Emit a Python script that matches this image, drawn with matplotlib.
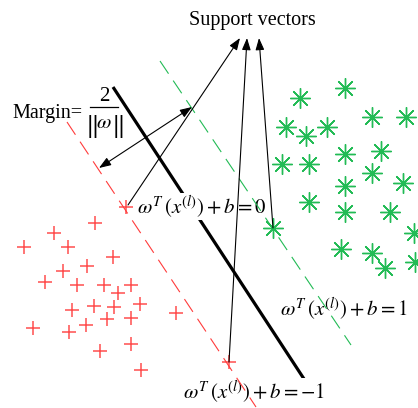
import matplotlib
matplotlib.use('Agg')
import matplotlib.pyplot as plt
from matplotlib.patches import FancyArrowPatch

plt.rcParams['mathtext.fontset'] = 'stix'
plt.rcParams['font.family'] = ['Liberation Serif', 'DejaVu Serif']
plt.rcParams['lines.scale_dashes'] = False

# class -1 samples (red crosses), pixel-style coordinates, y grows downward
neg_x = [95, 54, 24, 68, 113, 87, 63, 45, 77, 104, 131, 118, 94, 114, 140,
         72, 176, 107, 131, 86, 33, 69, 131, 100, 141]
neg_y = [223, 233, 247, 247, 257, 266, 271, 282, 285, 285, 285, 293, 306, 307, 304,
         310, 313, 319, 318, 325, 328, 332, 344, 351, 370]
# class +1 samples (green asterisks)
pos_x = [345, 300, 372, 406, 286, 327, 306, 345, 381, 282, 309, 372, 345, 403,
         309, 345, 390, 414, 341, 372, 385, 415]
pos_y = [88, 98, 117, 117, 127, 127, 136, 154, 151, 164, 164, 173, 186, 183,
         202, 212, 212, 233, 249, 253, 268, 262]
# support vectors
sv_neg_x = [126, 229]
sv_neg_y = [207, 362]
sv_pos_x = [273]
sv_pos_y = [228]

# decision boundary and the two margin lines (end points)
boundary_x, boundary_y = [113, 306], [87, 382]
lower_x, lower_y = [67, 256], [122, 407]
upper_x, upper_y = [160, 351], [61, 345]

# arrows from the support vectors to the label
sv_tips_x = [240, 247, 259]
sv_tips_y = [38, 38, 38]
sv_from_x = [128, 229, 273]
sv_from_y = [205, 362, 228]
# margin width arrow
margin_a = (99, 168)
margin_b = (192, 107)

red = '#ff3b3b'
green = '#22bb55'

fig = plt.figure(figsize=(4.18, 4.08), dpi=100)
ax = fig.add_axes([0, 0, 1, 1])
ax.set_xlim(0, 418)
ax.set_ylim(408, 0)
ax.axis('off')

ax.plot(boundary_x, boundary_y, color='black', lw=2.3, solid_capstyle='butt', zorder=1)
ax.plot(lower_x, lower_y, color=red, lw=0.8, dashes=[11, 6], zorder=3)
ax.plot(upper_x, upper_y, color=green, lw=0.8, dashes=[11, 6], zorder=3)

ax.plot(neg_x, neg_y, ls='none', marker='+', ms=10, mew=1.1, color=red, alpha=0.9, zorder=4)
ax.plot(sv_neg_x, sv_neg_y, ls='none', marker='+', ms=10, mew=1.1, color=red, alpha=0.9, zorder=4)
ax.plot(pos_x, pos_y, ls='none', marker=(8, 2, 0), ms=14.5, mew=1.0, color=green, zorder=4)
ax.plot(sv_pos_x, sv_pos_y, ls='none', marker=(8, 2, 0), ms=14.5, mew=1.0, color=green, zorder=4)

head = '-|>,head_length=0.6,head_width=0.22'
for x0, y0, x1, y1 in zip(sv_from_x, sv_from_y, sv_tips_x, sv_tips_y):
    ax.add_patch(FancyArrowPatch((x0, y0), (x1, y1), arrowstyle=head, mutation_scale=12,
                                 color='black', lw=0.8, shrinkA=0, shrinkB=0, zorder=5))
ax.add_patch(FancyArrowPatch(margin_a, margin_b, arrowstyle='<|-|>,head_length=0.6,head_width=0.22',
                             mutation_scale=12, color='black', lw=0.8, shrinkA=0, shrinkB=0, zorder=5))

ax.text(252, 25, 'Support vectors', fontsize=14.5, ha='center', va='baseline')
ax.text(12, 118, 'Margin=', fontsize=14.5, ha='left', va='baseline')

# margin formula 2 / ||w||, built from pieces so the norm bars can be tall
ax.text(104, 101, '2', fontsize=15, ha='center', va='baseline')
ax.plot([90, 118], [107, 107], color='black', lw=0.9)
ax.text(91, 126, r'$\Vert$', fontsize=19, ha='center', va='center')
ax.text(104, 124, r'$\omega$', fontsize=15, ha='center', va='center')
ax.text(117, 126, r'$\Vert$', fontsize=19, ha='center', va='center')

white = dict(fc='white', ec='none', pad=0)
ax.text(137, 213, r'$\omega^T\,\left(x^{(l)}\right)+b=0$', fontsize=15,
        ha='left', va='baseline', bbox=white, zorder=2)
ax.text(280, 315, r'$\omega^T\,\left(x^{(l)}\right)+b=1$', fontsize=15,
        ha='left', va='baseline', bbox=white, zorder=2)
ax.text(183, 398, r'$\omega^T\,\left(x^{(l)}\right)+b=-1$', fontsize=15,
        ha='left', va='baseline', bbox=white, zorder=2)

fig.savefig('out.png', dpi=100)
